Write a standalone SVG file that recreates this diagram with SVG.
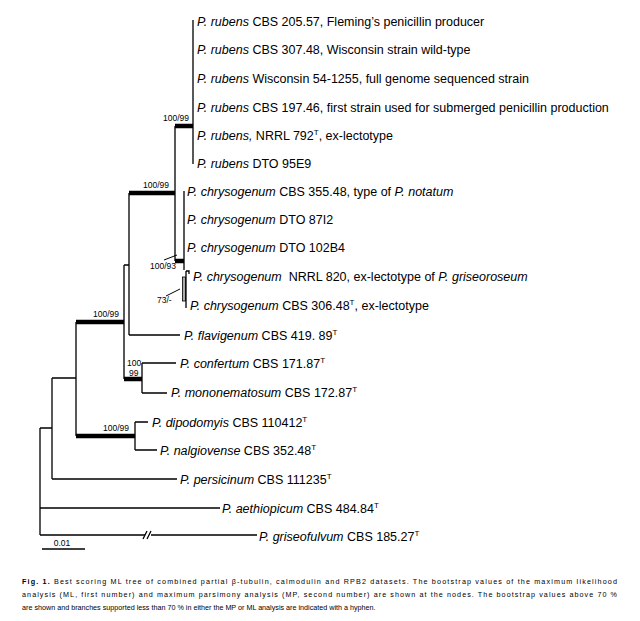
<svg xmlns="http://www.w3.org/2000/svg" width="640" height="621" viewBox="0 0 640 621">
<style>
.e{stroke:#000;stroke-width:1.3;fill:none}
.k{stroke:#000;stroke-width:4.5;fill:none}
.l{stroke:#000;stroke-width:1;fill:none}
.lab{font-family:"Liberation Sans",Arial,sans-serif;font-size:12.5px;fill:#000}
.sp{font-family:"Liberation Sans",Arial,sans-serif;font-size:8.5px;fill:#000}
.cap{font-family:"Liberation Sans",Arial,sans-serif;font-size:7.2px;fill:#000}
.it{font-style:italic}
.su{font-size:8px}
</style>
<rect width="640" height="621" fill="#fff"/>
<g id="connectors">
<path class="e" d="M193,20V164M175,126V261M184,191V270M129,193V335M129,335H180M124,265H129M124,265V379M142,363V393M142,363H176M142,393H167M76,322V436M135,422V450M135,422H148M135,450H157M52,378H76M52,378V479M52,479H177M40,428H52M40,428V535M40,508H220M40,535H145M151,535H257"/>
<path class="e" d="M143,539L147,531M147,539L151,531"/>
<path class="k" d="M175,126H193M129,193H175M175,261H184M76,322H124M124,379H142M76,436H135"/>
<rect x="182.5" y="277" width="3" height="24" fill="#aaa" stroke="#000" stroke-width="0.8"/>
<path class="e" d="M186,271V308M186,271H189V274"/>
<path class="l" d="M164,260L177,255M166,296L180,289"/>
</g>
<g id="supports" class="sp">
<text x="163" y="121">100/99</text>
<text x="143" y="188">100/99</text>
<text x="150" y="269">100/93</text>
<text x="157" y="303">73/-</text>
<text x="93" y="317">100/99</text>
<text x="127" y="366">100</text>
<text x="129" y="376">99</text>
<text x="103" y="431">100/99</text>
</g>
<g id="rubens1"><text class="lab" x="197" y="25.5"><tspan class="it">P. rubens</tspan> CBS 205.57, Fleming’s penicillin producer</text></g>
<g id="rubens2"><text class="lab" x="197" y="53.5"><tspan class="it">P. rubens</tspan> CBS 307.48, Wisconsin strain wild-type</text></g>
<g id="rubens3"><text class="lab" x="197" y="82.5"><tspan class="it">P. rubens</tspan> Wisconsin 54-1255, full genome sequenced strain</text></g>
<g id="rubens4"><text class="lab" x="197" y="111.5"><tspan class="it">P. rubens</tspan> CBS 197.46, first strain used for submerged penicillin production</text></g>
<g id="rubens5"><text class="lab" x="197" y="139.5"><tspan class="it">P. rubens,</tspan> NRRL 792<tspan class="su" dy="-5">T</tspan><tspan dy="5">, ex-lectotype</tspan></text></g>
<g id="rubens6"><text class="lab" x="197" y="167.5"><tspan class="it">P. rubens</tspan> DTO 95E9</text></g>
<g id="chrys1"><text class="lab" x="187" y="195.5"><tspan class="it">P. chrysogenum</tspan> CBS 355.48, type of <tspan class="it">P. notatum</tspan></text></g>
<g id="chrys2"><text class="lab" x="187" y="223.5"><tspan class="it">P. chrysogenum</tspan> DTO 87I2</text></g>
<g id="chrys3"><text class="lab" x="187" y="251.5"><tspan class="it">P. chrysogenum</tspan> DTO 102B4</text></g>
<g id="chrys4"><text class="lab" x="193" y="280.5" xml:space="preserve"><tspan class="it">P. chrysogenum</tspan>  NRRL 820, ex-lectotype of <tspan class="it">P. griseoroseum</tspan></text></g>
<g id="chrys5"><text class="lab" x="190" y="309.5"><tspan class="it">P. chrysogenum</tspan> CBS 306.48<tspan class="su" dy="-5">T</tspan><tspan dy="5">, ex-lectotype</tspan></text></g>
<g id="flavigenum"><text class="lab" x="184" y="339.5"><tspan class="it">P. flavigenum</tspan> CBS 419. 89<tspan class="su" dy="-5">T</tspan></text></g>
<g id="confertum"><text class="lab" x="180" y="367.5"><tspan class="it">P. confertum</tspan> CBS 171.87<tspan class="su" dy="-5">T</tspan></text></g>
<g id="mononematosum"><text class="lab" x="171" y="396.5"><tspan class="it">P. mononematosum</tspan> CBS 172.87<tspan class="su" dy="-5">T</tspan></text></g>
<g id="dipodomyis"><text class="lab" x="152" y="426.5"><tspan class="it">P. dipodomyis</tspan> CBS 110412<tspan class="su" dy="-5">T</tspan></text></g>
<g id="nalgiovense"><text class="lab" x="160" y="454.5"><tspan class="it">P. nalgiovense</tspan> CBS 352.48<tspan class="su" dy="-5">T</tspan></text></g>
<g id="persicinum"><text class="lab" x="180" y="483.5"><tspan class="it">P. persicinum</tspan> CBS 111235<tspan class="su" dy="-5">T</tspan></text></g>
<g id="aethiopicum"><text class="lab" x="222" y="512.5"><tspan class="it">P. aethiopicum</tspan> CBS 484.84<tspan class="su" dy="-5">T</tspan></text></g>
<g id="griseofulvum"><text class="lab" x="259" y="540.5"><tspan class="it">P. griseofulvum</tspan> CBS 185.27<tspan class="su" dy="-5">T</tspan></text></g>
<g id="scale">
<path class="e" d="M42,549H85"/>
<text class="sp" x="62" y="546" text-anchor="middle">0.01</text>
</g>
<g id="caption" class="cap">
<text x="22" y="583.5" textLength="595" lengthAdjust="spacing"><tspan font-weight="bold">Fig. 1.</tspan> Best scoring ML tree of combined partial β-tubulin, calmodulin and RPB2 datasets. The bootstrap values of the maximum likelihood</text>
<text x="22" y="596.5" textLength="595" lengthAdjust="spacing">analysis (ML, first number) and maximum parsimony analysis (MP, second number) are shown at the nodes. The bootstrap values above 70 %</text>
<text x="22" y="609.5">are shown and branches supported less than 70 % in either the MP or ML analysis are indicated with a hyphen.</text>
</g>
</svg>
